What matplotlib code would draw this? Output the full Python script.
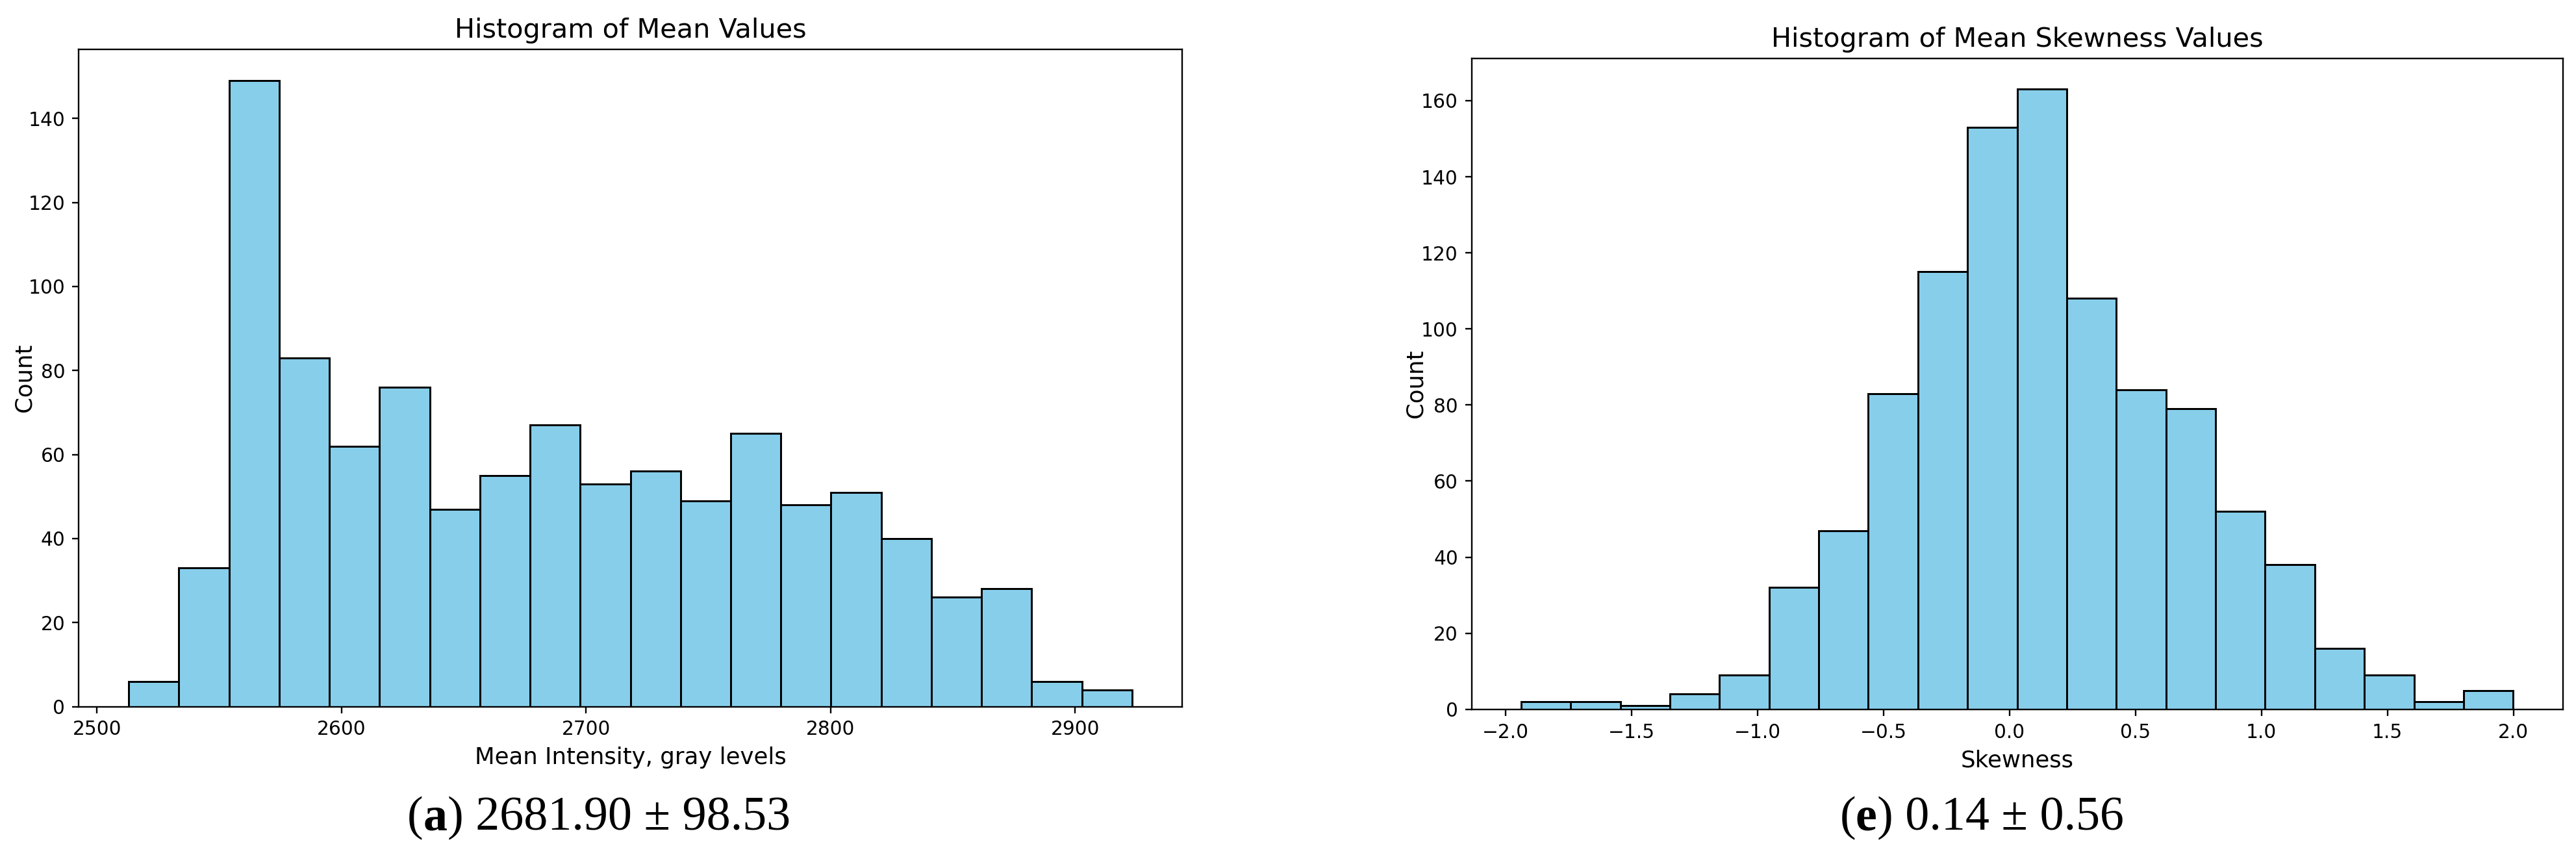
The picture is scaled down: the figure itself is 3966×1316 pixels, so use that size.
import numpy as np
import matplotlib
matplotlib.use("Agg")
import matplotlib.pyplot as plt

# ---- data ----
mean_counts = [6, 33, 149, 83, 62, 76, 47, 55, 67, 53,
               56, 49, 65, 48, 51, 40, 26, 28, 6, 4]
mean_range = (2513.0, 2923.2)

skew_counts = [2, 2, 1, 4, 9, 32, 47, 83, 115, 153,
               163, 108, 84, 79, 52, 38, 16, 9, 2, 5]
skew_range = (-1.938, 1.999)

n_bins = 20

titles = ["Histogram of Mean Values", "Histogram of Mean Skewness Values"]
xlabels = ["Mean Intensity, gray levels", "Skewness"]
ylabel = "Count"
captions = [
    [("(", "normal"), ("a", "bold"), (") 2681.90 \u00b1 98.53", "normal")],
    [("(", "normal"), ("e", "bold"), (") 0.14 \u00b1 0.56", "normal")],
]

# ---- figure ----
W, H = 3966, 1316
DPI = 213
fig = plt.figure(figsize=(W / DPI, H / DPI), dpi=DPI)

def frac_rect(l, t, r, b):
    return [l / W, 1 - b / H, (r - l) / W, (b - t) / H]

ax1 = fig.add_axes(frac_rect(121, 76, 1820, 1087.5))
ax2 = fig.add_axes(frac_rect(2265.5, 89.6, 3945.7, 1091.8))

for ax, counts, rng, title, xl, ypad in [
    (ax1, mean_counts, mean_range, titles[0], xlabels[0], -3.6),
    (ax2, skew_counts, skew_range, titles[1], xlabels[1], -2.8),
]:
    edges = np.linspace(rng[0], rng[1], n_bins + 1)
    ax.hist(edges[:-1], bins=edges, weights=counts,
            color="skyblue", edgecolor="black", linewidth=1.0)
    ax.set_title(title, fontsize=14)
    ax.set_xlabel(xl, fontsize=12)
    ax.set_ylabel(ylabel, fontsize=12, labelpad=ypad)

# ---- captions ----
renderer = fig.canvas.get_renderer()

def caption(parts, xc_px, ybase_px, size=25):
    texts = []
    for s, w in parts:
        t = fig.text(0, 1 - ybase_px / H, s, fontsize=size, fontweight=w,
                     family=["Liberation Serif", "DejaVu Serif"],
                     va="baseline", ha="left")
        texts.append(t)
    widths = [t.get_window_extent(renderer).width for t in texts]
    x = xc_px - sum(widths) / 2
    for t, w in zip(texts, widths):
        t.set_x(x / W)
        x += w

caption(captions[0], 922, 1277)
caption(captions[1], 3051, 1277)

fig.savefig("out.png", dpi=DPI)
